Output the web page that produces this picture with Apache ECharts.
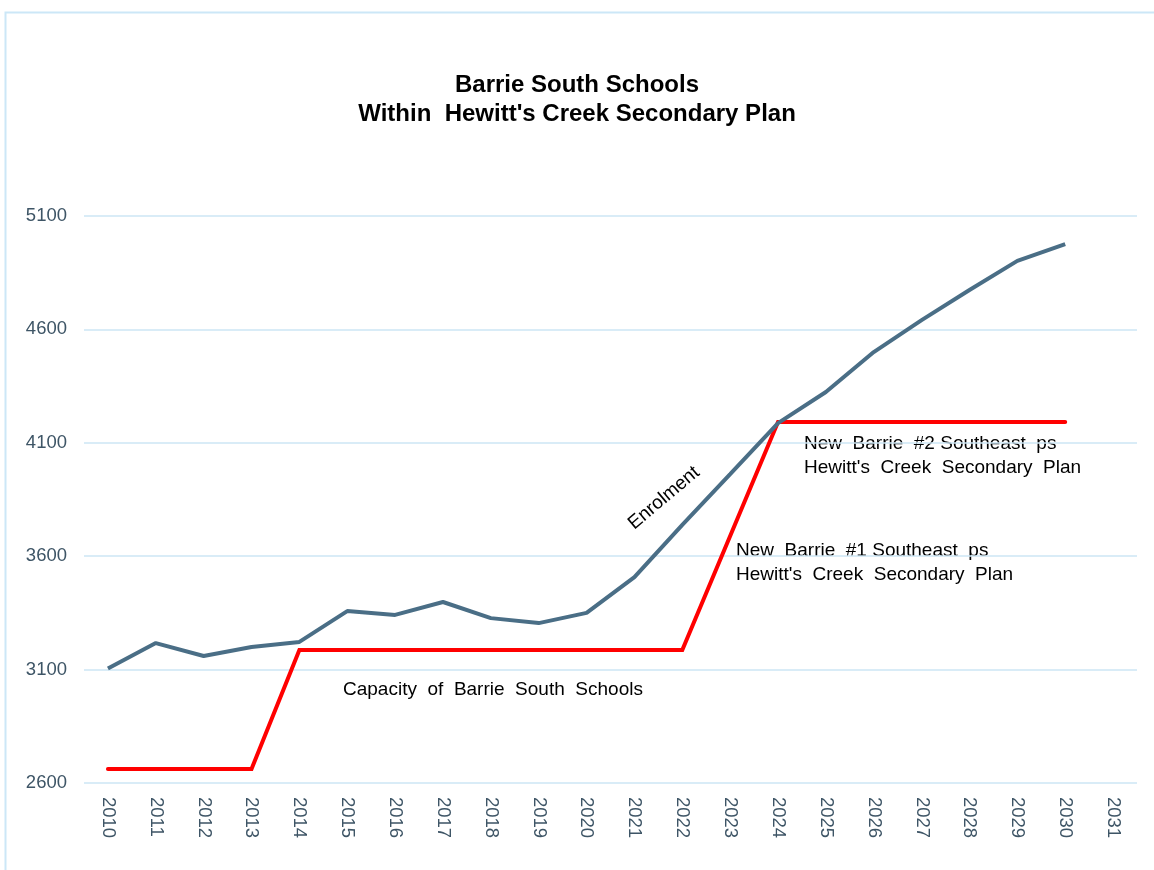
<!DOCTYPE html>
<html>
<head>
<meta charset="utf-8">
<script src="https://cdn.jsdelivr.net/npm/echarts@6/dist/echarts.min.js"></script>
<style>
html,body{margin:0;padding:0;background:#fff;}
#chart{width:1154px;height:870px;}
</style>
</head>
<body>
<div id="chart"></div>
<script>
const years = ['2010','2011','2012','2013','2014','2015','2016','2017','2018','2019','2020','2021','2022','2023','2024','2025','2026','2027','2028','2029','2030','2031'];
const enrolment = [3105, 3217, 3160, 3200, 3222, 3358, 3341, 3398, 3327, 3305, 3350, 3508, 3738, 3962, 4187, 4324, 4500, 4641, 4774, 4902, 4976, null];
const capacity = [2662, 2662, 2662, 2662, 3186, 3186, 3186, 3186, 3186, 3186, 3186, 3186, 3186, null, 4192, 4192, 4192, 4192, 4192, 4192, 4192, null];
const yTicks = {min: 2600, max: 5100, interval: 500};

const chart = echarts.init(document.getElementById('chart'));
const font = '"Liberation Sans", Arial, sans-serif';
chart.setOption({
  backgroundColor: '#fff',
  animation: false,
  title: {
    text: 'Barrie South Schools\nWithin  Hewitt\'s Creek Secondary Plan',
    left: 'center',
    top: 66,
    textStyle: {fontFamily: font, fontSize: 24, fontWeight: 'bold', color: '#000', lineHeight: 29}
  },
  grid: {left: 84, right: 17, top: 216, bottom: 87, containLabel: false},
  xAxis: {
    type: 'category',
    data: years,
    boundaryGap: true,
    axisLine: {show: false},
    axisTick: {show: false},
    axisLabel: {rotate: -90, fontFamily: font, fontSize: 18.5, color: '#3e5566', margin: 14}
  },
  yAxis: {
    type: 'value',
    min: yTicks.min, max: yTicks.max, interval: yTicks.interval,
    axisLine: {show: false},
    axisTick: {show: false},
    splitLine: {lineStyle: {color: '#cde6f5', width: 1.5}},
    axisLabel: {fontFamily: font, fontSize: 18.5, color: '#3e5566', margin: 17, formatter: v => String(v)}
  },
  series: [
    {
      name: 'Enrolment', type: 'line', data: enrolment, symbol: 'none',
      lineStyle: {color: '#4a6e86', width: 4}, z: 3
    },
    {
      name: 'Capacity', type: 'line', data: capacity, symbol: 'none', connectNulls: true,
      lineStyle: {color: '#ff0000', width: 4, cap: 'round', join: 'miter'}, z: 2
    }
  ],
  graphic: [
    {type: 'rect', left: 3, top: 10, shape: {width: 1160, height: 880}, style: {fill: 'none', stroke: '#cce7f7', lineWidth: 2}, silent: true},
    {type: 'text', x: 343, y: 690, style: {text: 'Capacity  of  Barrie  South  Schools', font: '19px ' + font, fill: '#000', verticalAlign: 'middle'}},
    {type: 'text', x: 804, y: 444, style: {text: 'New  Barrie  #2 Southeast  ps', font: '19px ' + font, fill: '#000', verticalAlign: 'middle'}},
    {type: 'text', x: 804, y: 468, style: {text: 'Hewitt\'s  Creek  Secondary  Plan', font: '19px ' + font, fill: '#000', verticalAlign: 'middle'}},
    {type: 'text', x: 736, y: 551, style: {text: 'New  Barrie  #1 Southeast  ps', font: '19px ' + font, fill: '#000', verticalAlign: 'middle'}},
    {type: 'text', x: 736, y: 575, style: {text: 'Hewitt\'s  Creek  Secondary  Plan', font: '19px ' + font, fill: '#000', verticalAlign: 'middle'}},
    {type: 'text', x: 664, y: 498, rotation: 0.70, style: {text: 'Enrolment', font: '19px ' + font, fill: '#000', align: 'center', verticalAlign: 'middle'}}
  ]
});
</script>
</body>
</html>
